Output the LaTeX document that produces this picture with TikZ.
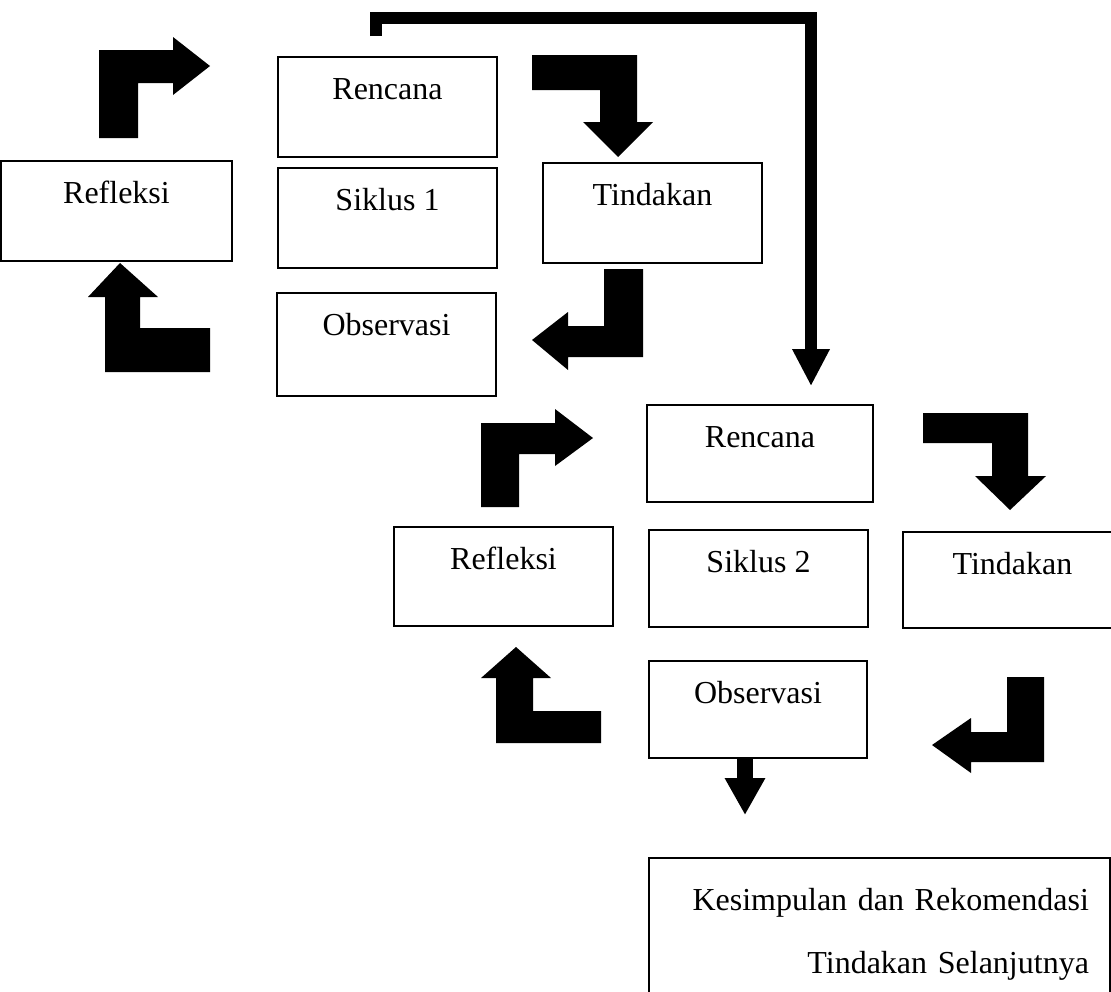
\documentclass[tikz,border=0pt]{standalone}
\usepackage{fontspec}
\setmainfont{Liberation Serif}
\usetikzlibrary{arrows.meta,calc}

\tikzset{
  kotak/.style={draw, line width=0.9pt, inner sep=0pt, minimum width=109.5pt,
    text height=21pt, text depth=29pt, font=\fontsize{16}{19}\selectfont},
  panah/.style={fill=black},
  sambung/.style={line width=6pt, line join=miter,
    -{Triangle[width=17.5pt,length=18.5pt]}},
}

\begin{document}
\begin{tikzpicture}[x=0.5pt,y=-0.5pt]
    \useasboundingbox (0,0) rectangle (1111,991);
    \clip (0,0) rectangle (1111,991);
    % Siklus 1
    \node[kotak] (ren1) at (387.5,107) {Rencana};
    \node[kotak] (sik1) at (387.5,218) {Siklus 1};
    \node[kotak, text depth=30.5pt] (obs1) at (386.5,344.5) {Observasi};
    \node[kotak, minimum width=115.5pt] (ref1) at (116.5,211) {Refleksi};
    \node[kotak] (tin1) at (652.5,213) {Tindakan};
    % Siklus 2
    \node[kotak, minimum width=113pt, text depth=27.5pt] (ren2) at (760,453.5) {Rencana};
    \node[kotak, text depth=27.5pt] (sik2) at (758.5,578.5) {Siklus 2};
    \node[kotak, minimum width=109pt, text depth=27.5pt] (obs2) at (758,709.5) {Observasi};
    \node[kotak, text depth=28.5pt] (ref2) at (503.5,576.5) {Refleksi};
    \node[kotak, text depth=27pt] (tin2) at (1012.5,580) {Tindakan};
    % Kesimpulan
    \node[kotak, anchor=north west, text width=209.5pt, inner xsep=10.5pt,
      align=right, text height=26.5pt, text depth=50pt,
      font=\fontsize{16}{31.5}\selectfont] (kes) at (648,857)
      {Kesimpulan dan Rekomendasi\\Tindakan Selanjutnya};
    % block arrows siklus 1
    \fill[panah] (99,138) -- (99,50) -- (173,50) -- (173,37) -- (210,66)
      -- (173,95) -- (173,83) -- (138,83) -- (138,138) -- cycle;
    \fill[panah] (532,55) -- (637,55) -- (637,122) -- (653,122) -- (618,157)
      -- (583,122) -- (600,122) -- (600,90) -- (532,90) -- cycle;
    \fill[panah] (604,269) -- (643,269) -- (643,357) -- (568,357) -- (568,370)
      -- (532,340) -- (568,312) -- (568,326) -- (604,326) -- cycle;
    \fill[panah] (210,328) -- (210,372) -- (105,372) -- (105,297) -- (88,297)
      -- (120,263) -- (158,297) -- (140,297) -- (140,328) -- cycle;
    % block arrows siklus 2
    \fill[panah] (481,507) -- (481,423) -- (555,423) -- (555,409) -- (593,438)
      -- (555,466) -- (555,454) -- (519,454) -- (519,507) -- cycle;
    \fill[panah] (923,413) -- (1028,413) -- (1028,476) -- (1046,476) -- (1010,510)
      -- (975,476) -- (992,476) -- (992,443) -- (923,443) -- cycle;
    \fill[panah] (1007,677) -- (1044,677) -- (1044,762) -- (971,762) -- (971,773)
      -- (932,745) -- (971,718) -- (971,732) -- (1007,732) -- cycle;
    \fill[panah] (601,711) -- (601,743) -- (496,743) -- (496,678) -- (481,678)
      -- (516,647) -- (551,678) -- (533,678) -- (533,711) -- cycle;
    % siklus 1 ke siklus 2
    \coordinate (belok) at (811,18);
    \draw[sambung] ($(ren1.north)+(-11.5,-20)$) |- (belok)
      -- ($(ren2.north)+(51,-18)$);
    % observasi ke kesimpulan
    \draw[line width=8pt, -{Triangle[width=19pt,length=18.5pt]}]
      ($(obs2.south)+(-13,0)$) -- ($(kes.north west)+(97,-42)$);
\end{tikzpicture}
\end{document}
